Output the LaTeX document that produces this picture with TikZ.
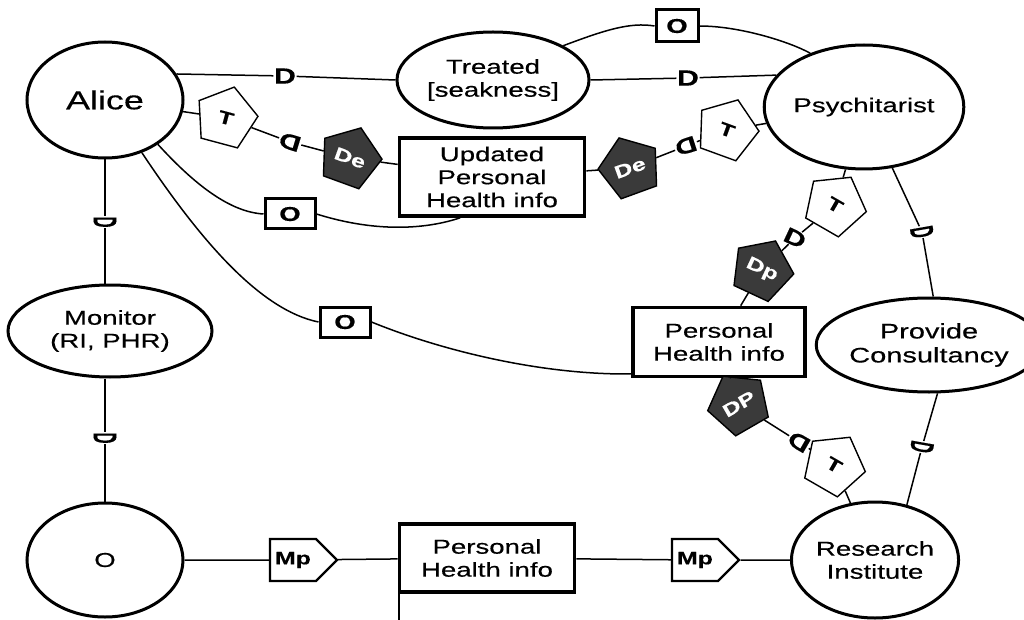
\documentclass[tikz,border=0pt]{standalone}
\usepackage{graphicx}
\usepackage{fontspec}
\setmainfont{Liberation Sans}[FakeStretch=1.38, FakeBold=0.4]
\usetikzlibrary{shapes.geometric,shapes.symbols}
\definecolor{tagfill}{RGB}{58,58,58}
\begin{document}
\begin{tikzpicture}[x=1pt,y=-1pt,
  every node/.style={align=center, inner sep=0pt},
  actor/.style={ellipse, draw, line width=3pt, font=\fontsize{20}{23}\selectfont},
  res/.style={rectangle, draw, line width=3.6pt, font=\fontsize{20}{23}\selectfont},
  link/.style={line width=1.5pt},
  dmark/.style={font=\fontsize{22}{22}\selectfont\bfseries, fill=white, inner sep=0.5pt},
  obox/.style={rectangle, draw, fill=white, line width=3pt, minimum width=50pt, minimum height=30pt, font=\fontsize{20}{20}\selectfont\bfseries},
  tpent/.style={regular polygon, regular polygon sides=5, draw, fill=white, line width=1.4pt, minimum size=64pt, font=\fontsize{18}{18}\selectfont\bfseries},
  dpent/.style={tpent, fill=tagfill, text=white},
  mpsig/.style={signal, signal to=east, signal pointer angle=90, draw, fill=white, line width=2.4pt, minimum width=67pt, minimum height=42pt, font=\fontsize{18}{18}\selectfont\bfseries},
]
\useasboundingbox (0,0) rectangle (1024,620);

% actors, goals and resources
\node[actor, minimum width=156pt, minimum height=116pt, font=\fontsize{26}{28}\selectfont] (alice) at (105,100) {Alice};
\node[actor, minimum width=192pt, minimum height=96pt] (treated) at (493,80) {Treated\\{[seakness]}};
\node[actor, minimum width=160pt, minimum height=124pt] (psych) at (864,107) {Psychitarist};
\node[res, minimum width=185pt, minimum height=78pt] (upd) at (492,177) {Updated\\Personal\\Health info};
\node[actor, minimum width=204pt, minimum height=92pt] (monitor) at (110,331) {Monitor\\(RI, PHR)};
\node[actor, minimum width=156pt, minimum height=114pt] (ocirc) at (105,560) {O};
\node[res, minimum width=172pt, minimum height=69pt] (phi) at (719,342) {Personal\\Health info};
\node[actor, minimum width=182pt, minimum height=94pt, font=\fontsize{21}{24}\selectfont] (provide) at (929,345) {Provide\\Consultancy};
\node[actor, minimum width=156pt, minimum height=116pt] (research) at (875,560) {Research\\Institute};
\node[res, minimum width=175pt, minimum height=68pt] (phi2) at (487,558) {Personal\\Health info};

% dependency marks
\node[dmark] (dA) at (285,76) {D};
\node[dmark] (dB) at (688,78) {D};
\node[dmark, rotate=163] (d1) at (290,142) {D};
\node[dmark, rotate=198] (d2) at (686,146) {D};
\node[dmark, rotate=-25] (d3) at (795,238) {D};
\node[dmark, rotate=150] (d4) at (799,442) {D};
\node[dmark, rotate=-90] (dm1) at (105,222) {\scalebox{0.5}[1.5]{D}};
\node[dmark, rotate=-90] (dm2) at (105,438) {\scalebox{0.5}[1.5]{D}};
\node[dmark, rotate=-80] (d5) at (922,232) {\scalebox{0.5}[1.5]{D}};
\node[dmark, rotate=-100] (d6) at (922,447) {\scalebox{0.5}[1.5]{D}};

% O boxes
\node[obox, minimum width=42pt, minimum height=32pt] (otop) at (677,26) {O};
\node[obox] (omid) at (290,214) {O};
\node[obox] (olow) at (345,322) {O};

% pentagon tags
\node[tpent, rotate=-15] (t1) at (226,118) {T};
\node[dpent, rotate=-20] (de1) at (350,158) {De};
\node[dpent, rotate=20] (de2) at (630,168) {De};
\node[tpent, rotate=-20] (t2) at (727,130) {T};
\node[tpent, rotate=-30] (t3) at (835,205) {T};
\node[dpent, rotate=-25] (dp1) at (762,270) {Dp};
\node[dpent, rotate=30] (dp2) at (739,404) {DP};
\node[tpent, rotate=-30] (t4) at (834,465) {T};

% means tags
\node[mpsig] (mp1) at (293,560) {Mp};
\node[mpsig] (mp2) at (695,560) {Mp};

% straight links
\draw[link] (alice.20) -- (dA) -- (treated.west);
\draw[link] (treated.east) -- (dB) -- (psych.160);
\draw[link] (alice) -- (t1) -- (d1) -- (de1) -- (upd);
\draw[link] (upd) -- (de2) -- (d2) -- (t2) -- (psych);
\draw[link] (psych) -- (t3) -- (d3) -- (dp1) -- (phi);
\draw[link] (phi) -- (dp2) -- (d4) -- (t4) -- (research);
\draw[link] (alice) -- (dm1) -- (dm1 |- monitor.north);
\draw[link] (dm2 |- monitor.south) -- (dm2) -- (ocirc);
\draw[link] (psych) -- (d5) -- (provide.85);
\draw[link] (provide.-80) -- (d6) -- (research.60);
\draw[link] (ocirc) -- (mp1) -- (phi2) -- (mp2) -- (research);

% curved links through the O boxes
\draw[link] (treated.26) .. controls (605,30) and (630,22) .. (otop.west);
\draw[link] (otop.east) .. controls (740,26) and (790,42) .. (psych.135);
\draw[link] (alice.-40) .. controls (195,185) and (230,212) .. (omid.west);
\draw[link] (omid.east) .. controls (380,234) and (430,228) .. (upd.-128);
\draw[link] (alice.-55) .. controls (200,240) and (260,310) .. (olow.west);
\draw[link] (olow.east) .. controls (440,350) and (540,375) .. (phi.-160);

% stray rule under the lower resource
\coordinate (tail) at (399,620);
\draw[line width=2pt] (phi2.south west -| tail) -- (tail);
\end{tikzpicture}
\end{document}
